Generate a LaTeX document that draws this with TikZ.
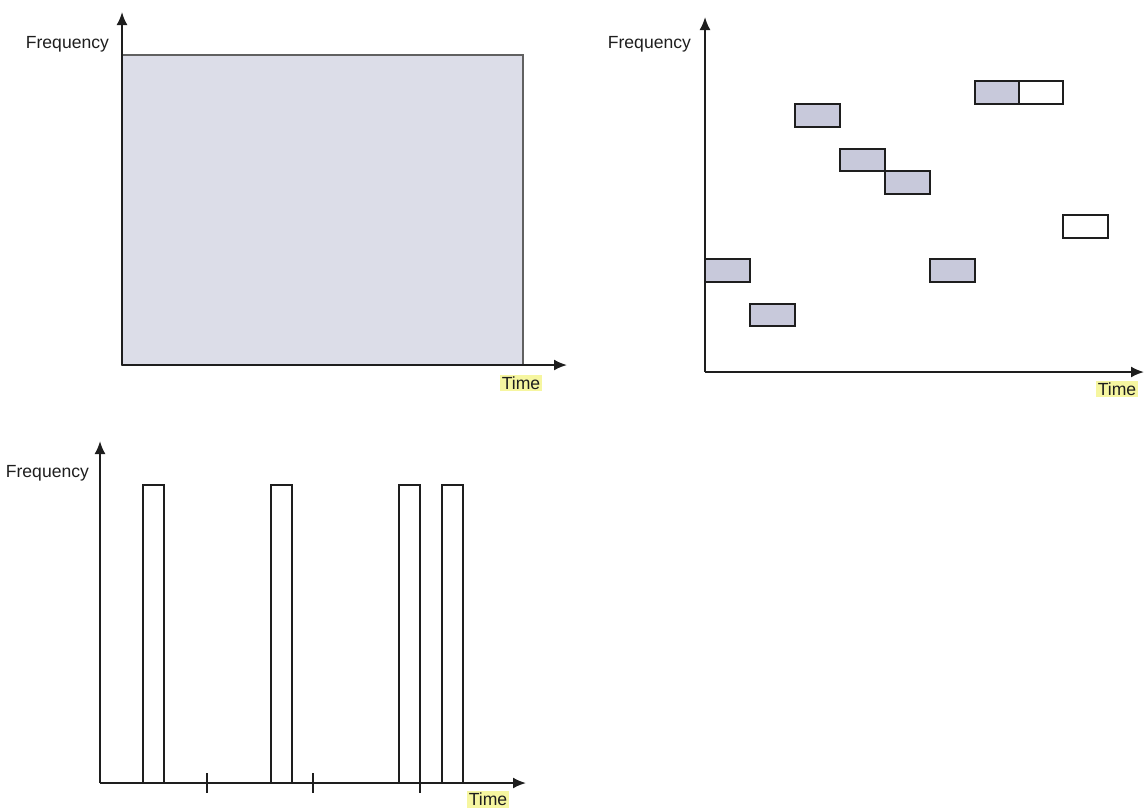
\documentclass[tikz,border=0pt]{standalone}
\usepackage{fontspec}
\setsansfont{Liberation Sans}
\usetikzlibrary{arrows.meta}

\definecolor{areagrey}{RGB}{220,221,232}
\definecolor{slotgrey}{RGB}{200,201,219}
\definecolor{marker}{RGB}{246,246,160}
\definecolor{ink}{RGB}{30,30,30}

\begin{document}
\begin{tikzpicture}[x=0.02cm, y=-0.02cm,
    axis/.style={draw=ink, line width=1.1pt, -{Latex[length=2.6mm,width=2.2mm]}},
    slot/.style={draw=ink, line width=1.4pt, fill=slotgrey},
    freeslot/.style={draw=ink, line width=1.4pt, fill=white},
    bar/.style={draw=ink, line width=1.1pt, fill=white},
    label/.style={font=\sffamily, text=ink, inner sep=1pt},
    timelabel/.style={label, fill=marker}]
    \useasboundingbox (0,0) rectangle (1145,809);

    % Define the origins and axis ends of the three plots
    \coordinate (O1) at (122,365);
    \coordinate (F1) at (122,12);
    \coordinate (T1) at (567,365);
    \coordinate (O2) at (705,372);
    \coordinate (F2) at (705,17);
    \coordinate (T2) at (1144,372);
    \coordinate (O3) at (100,783);
    \coordinate (F3) at (100,441);
    \coordinate (T3) at (526,783);

    % Top left: the whole band all the time
    \draw[draw=ink!70, line width=0.8pt, fill=areagrey] (122,55) rectangle (523,365);
    \draw[axis] (O1) -- (F1);
    \draw[axis] (O1) -- (T1);
    \node[label, anchor=east] (freq1) at (111,44) {Frequency};
    \node[timelabel] (time1) at (521,383) {Time};

    % Top right: hopping slots
    \draw[slot] (705,259) rectangle (750,282);
    \draw[slot] (750,304) rectangle (795,326);
    \draw[slot] (795,104) rectangle (840,127);
    \draw[slot] (840,149) rectangle (885,171);
    \draw[slot] (885,171) rectangle (930,194);
    \draw[slot] (930,259) rectangle (975,282);
    \draw[slot] (975,81) rectangle (1019,104);
    \draw[freeslot] (1019,81) rectangle (1063,104);
    \draw[freeslot] (1063,215) rectangle (1108,238);
    \draw[axis] (O2) -- (F2);
    \draw[axis] (O2) -- (T2);
    \node[label, anchor=east] (freq2) at (693,44) {Frequency};
    \node[timelabel] (time2) at (1117,389) {Time};

    % Bottom left: short bursts over the whole band
    \draw[bar] (143,485) rectangle (164,783);
    \draw[bar] (271,485) rectangle (292,783);
    \draw[bar] (399,485) rectangle (420,783);
    \draw[bar] (442,485) rectangle (463,783);
    \draw[axis] (O3) -- (F3);
    \draw[axis] (O3) -- (T3);
    \draw[draw=ink, line width=1.1pt] (207,773) -- (207,793);
    \draw[draw=ink, line width=1.1pt] (313,773) -- (313,793);
    \draw[draw=ink, line width=1.1pt] (420,773) -- (420,793);
    \node[label, anchor=east] (freq3) at (91,473) {Frequency};
    \node[timelabel, anchor=south] (time3) at (488,808) {Time};
\end{tikzpicture}
\end{document}
